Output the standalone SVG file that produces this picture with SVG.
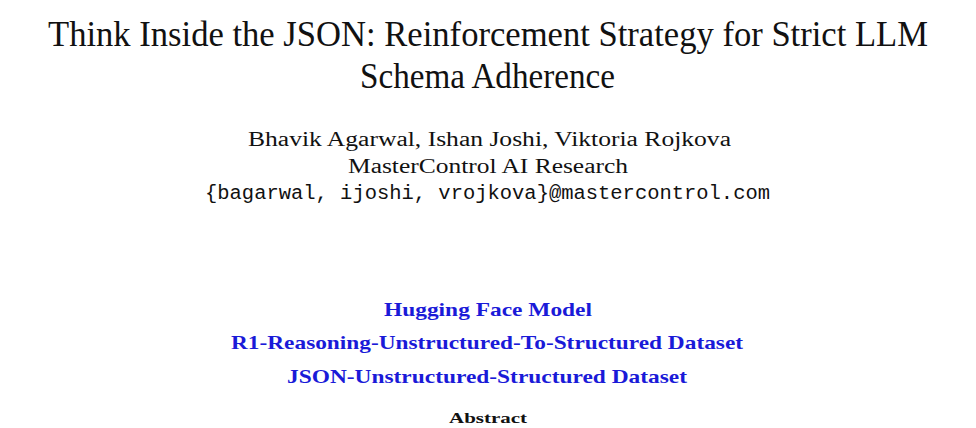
<svg xmlns="http://www.w3.org/2000/svg" width="976" height="428" viewBox="0 0 976 428">
<style>
.t{font-family:"Liberation Serif","DejaVu Serif",serif;fill:#111;}
.m{font-family:"Liberation Mono","DejaVu Sans Mono",monospace;fill:#111;}
.l{font-family:"Liberation Serif","DejaVu Serif",serif;font-weight:bold;fill:#1a1ad8;}
.b{font-family:"Liberation Serif","DejaVu Serif",serif;font-weight:bold;fill:#111;}
</style>
<rect width="976" height="428" fill="#fff"/>
<g id="title">
<text class="t" x="48" y="46" font-size="35.5" textLength="880" lengthAdjust="spacingAndGlyphs">Think Inside the JSON: Reinforcement Strategy for Strict LLM</text>
<text class="t" x="360" y="88" font-size="35.5" textLength="255" lengthAdjust="spacingAndGlyphs">Schema Adherence</text>
</g>
<g id="authors">
<text class="t" x="248" y="146" font-size="20.5" textLength="483" lengthAdjust="spacingAndGlyphs">Bhavik Agarwal, Ishan Joshi, Viktoria Rojkova</text>
<text class="t" x="348" y="173" font-size="20.5" textLength="280" lengthAdjust="spacingAndGlyphs">MasterControl AI Research</text>
<text class="m" x="205" y="199" font-size="20" textLength="565" lengthAdjust="spacingAndGlyphs">{bagarwal, ijoshi, vrojkova}@mastercontrol.com</text>
</g>
<g id="links">
<text class="l" x="384" y="316" font-size="19" textLength="208" lengthAdjust="spacingAndGlyphs">Hugging Face Model</text>
<text class="l" x="231" y="349" font-size="19" textLength="512" lengthAdjust="spacingAndGlyphs">R1-Reasoning-Unstructured-To-Structured Dataset</text>
<text class="l" x="287" y="383" font-size="19" textLength="400" lengthAdjust="spacingAndGlyphs">JSON-Unstructured-Structured Dataset</text>
</g>
<g id="abstract">
<text class="b" x="449" y="423" font-size="14" textLength="78" lengthAdjust="spacingAndGlyphs">Abstract</text>
</g>
</svg>
